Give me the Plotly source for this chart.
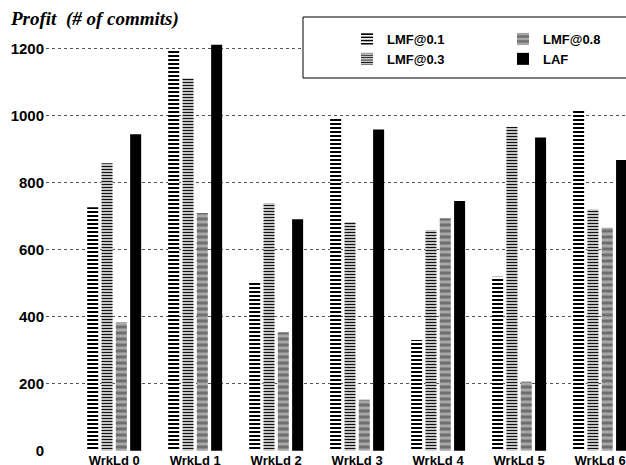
import plotly.graph_objects as go

categories = ["WrkLd 0", "WrkLd 1", "WrkLd 2", "WrkLd 3", "WrkLd 4", "WrkLd 5", "WrkLd 6"]
lmf_01 = [726, 1197, 506, 993, 330, 519, 1019]
lmf_03 = [857, 1111, 739, 682, 658, 966, 720]
lmf_08 = [383, 709, 353, 152, 693, 206, 665]
laf = [944, 1211, 690, 958, 745, 934, 867]
y_ticks = [0, 200, 400, 600, 800, 1000, 1200]

W, H = 626, 465
ML, MR, MT, MB = 46, 0, 30, 14
PW = W - ML - MR
PH = H - MT - MB


def px(x):
    return (x - ML) / PW


def py(y):
    return (H - MB - y) / PH


fig = go.Figure()
fig.add_bar(name="LMF@0.1", x=categories, y=lmf_01, legend="legend", legendrank=1,
            marker=dict(color="white", line=dict(width=0),
                        pattern=dict(shape="-", fgcolor="black", bgcolor="white",
                                     fgopacity=1, size=4, solidity=0.5)))
fig.add_bar(name="LMF@0.3", x=categories, y=lmf_03, legend="legend", legendrank=2,
            marker=dict(color="white", line=dict(width=0),
                        pattern=dict(shape="-", fgcolor="#111111", bgcolor="#c4c4c4",
                                     fgopacity=1, size=3, solidity=0.34)))
fig.add_bar(name="LMF@0.8", x=categories, y=lmf_08, legend="legend2", legendrank=3,
            marker=dict(color="#999999", line=dict(width=0),
                        pattern=dict(shape="-", fgcolor="#6e6e6e", bgcolor="#a8a8a8",
                                     fgopacity=1, size=6, solidity=0.5)))
fig.add_bar(name="LAF", x=categories, y=laf, legend="legend2", legendrank=4,
            marker=dict(color="black", line=dict(width=0)))

fig.add_shape(type="rect", xref="paper", yref="paper",
              x0=px(303), x1=px(640), y0=py(78), y1=py(17),
              fillcolor="white", line=dict(color="black", width=1), layer="above")

fig.add_annotation(text="<b><i>Profit  (# of commits)</i></b>", xref="paper", yref="paper",
                   x=px(8), y=py(6), xanchor="left", yanchor="top", showarrow=False,
                   font=dict(family="Liberation Serif", size=19, color="black"))

legend_font = dict(family="Liberation Sans", size=13, color="black", weight="bold")
fig.update_layout(
    width=W, height=H,
    margin=dict(l=ML, r=MR, t=MT, b=MB, autoexpand=False),
    paper_bgcolor="white", plot_bgcolor="white",
    barmode="group", bargap=0.293, bargroupgap=0.23,
    font=dict(family="Liberation Sans", color="black"),
    legend=dict(x=px(347), y=py(24), xanchor="left", yanchor="top",
                bgcolor="rgba(0,0,0,0)", borderwidth=0, font=legend_font,
                tracegroupgap=0, orientation="v"),
    legend2=dict(x=px(503), y=py(24), xanchor="left", yanchor="top",
                 bgcolor="rgba(0,0,0,0)", borderwidth=0, font=legend_font,
                 tracegroupgap=0, orientation="v"),
    xaxis=dict(range=[-0.842, 6.32], showgrid=False, showline=False, ticks="",
               zeroline=False, automargin=False,
               tickfont=dict(family="Liberation Sans", size=13),
               ticklabelstandoff=0),
    yaxis=dict(range=[-1, 1254.8], tickvals=y_ticks, ticktext=[f"<b>{v}</b>" for v in y_ticks],
               showgrid=True, gridcolor="#555555", griddash="dot", gridwidth=1,
               zeroline=False, showline=False, ticks="", automargin=False,
               tickfont=dict(family="Liberation Sans", size=15), ticklabelstandoff=1),
)
fig.update_xaxes(ticktext=[f"<b>{c}</b>" for c in categories], tickvals=categories)

fig.write_html("out.html", config={"displayModeBar": False},
               post_script="document.body.style.margin='0';document.body.style.padding='0';")
